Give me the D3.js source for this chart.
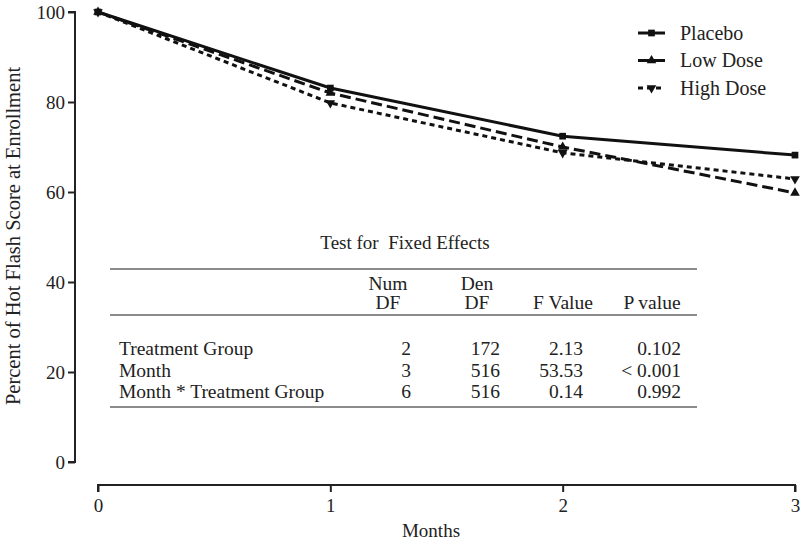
<!DOCTYPE html>
<html>
<head>
<meta charset="utf-8">
<script src="https://cdn.jsdelivr.net/npm/d3@7"></script>
<style>
  body { margin: 0; background: #fff; }
</style>
</head>
<body>
<svg id="chart" width="800" height="545"></svg>
<script>
// data
var months = [0, 1, 2, 3];
var placebo = [100, 83.1, 72.4, 68.2];
var lowDose = [100, 82.0, 70.0, 59.8];
var highDose = [100, 79.8, 68.7, 62.9];
var yTicks = [0, 20, 40, 60, 80, 100];

var tableTitle = "Test for  Fixed Effects";
var tableEffects = ["Treatment Group", "Month", "Month * Treatment Group"];
var numDF = ["2", "3", "6"];
var denDF = ["172", "516", "516"];
var fValue = ["2.13", "53.53", "0.14"];
var pValue = ["0.102", "< 0.001", "0.992"];

var serif = "'Liberation Serif', 'Times New Roman', 'DejaVu Serif', serif";
var ink = "#222";

var svg = d3.select("#chart")
  .attr("font-family", serif);

var x = d3.scaleLinear().domain([0, 3]).range([98, 795]);
var y = d3.scaleLinear().domain([0, 100]).range([462, 12]);

function styleText(sel, size) {
  return sel.attr("font-family", serif).style("font-size", size + "px").attr("fill", ink);
}

// y axis
var yAxis = svg.append("g")
  .attr("transform", "translate(75,0)")
  .call(d3.axisLeft(y).tickValues(yTicks).tickSize(7).tickPadding(3));
yAxis.attr("font-family", serif);
yAxis.select(".domain").attr("stroke", ink).attr("stroke-width", 2).attr("d", "M-7,12H0V462H-7");
yAxis.selectAll(".tick line").attr("stroke", ink).attr("stroke-width", 2);
styleText(yAxis.selectAll(".tick text"), 19);

// x axis, detached from y axis
var xAxis = svg.append("g")
  .attr("transform", "translate(0,485)")
  .call(d3.axisBottom(x).tickValues(months).tickFormat(d3.format("d")).tickSize(7).tickPadding(7));
xAxis.attr("font-family", serif);
xAxis.select(".domain").attr("stroke", ink).attr("stroke-width", 2).attr("d", "M98,7V0H795V7");
xAxis.selectAll(".tick line").attr("stroke", ink).attr("stroke-width", 2);
styleText(xAxis.selectAll(".tick text"), 19);

styleText(svg.append("text"), 19)
  .attr("x", 431).attr("y", 537)
  .attr("text-anchor", "middle")
  .text("Months");

styleText(svg.append("text"), 20.5)
  .attr("transform", "translate(20,236) rotate(-90)")
  .attr("text-anchor", "middle")
  .text("Percent of Hot Flash Score at Enrollment");

var series = [
  { name: "Placebo", values: placebo, dash: null, symbol: d3.symbolSquare, rot: 0, size: 45 },
  { name: "Low Dose", values: lowDose, dash: "11,5", symbol: d3.symbolTriangle, rot: 0, size: 40 },
  { name: "High Dose", values: highDose, dash: "5,4", symbol: d3.symbolTriangle, rot: 180, size: 40 }
];

var line = d3.line()
  .x(function (d, i) { return x(months[i]); })
  .y(function (d) { return y(d); });

series.forEach(function (s) {
  svg.append("path")
    .attr("d", line(s.values))
    .attr("fill", "none")
    .attr("stroke", "#111")
    .attr("stroke-width", 3)
    .attr("stroke-dasharray", s.dash);

  svg.selectAll(null)
    .data(s.values)
    .enter()
    .append("path")
    .attr("d", d3.symbol().type(s.symbol).size(s.size))
    .attr("transform", function (d, i) {
      return "translate(" + x(months[i]) + "," + y(d) + ") rotate(" + s.rot + ")";
    })
    .attr("fill", "#111");
});

// legend
var legend = svg.append("g").attr("transform", "translate(638,33)");
series.forEach(function (s, i) {
  var g = legend.append("g").attr("transform", "translate(0," + (i * 27.5) + ")");
  g.append("line")
    .attr("x1", 0).attr("x2", 27).attr("y1", 0).attr("y2", 0)
    .attr("stroke", "#111").attr("stroke-width", 3)
    .attr("stroke-dasharray", s.dash);
  g.append("path")
    .attr("d", d3.symbol().type(s.symbol).size(s.size))
    .attr("transform", "translate(13.5,0) rotate(" + s.rot + ")")
    .attr("fill", "#111");
  styleText(g.append("text"), 20)
    .attr("x", 42).attr("y", 6.5)
    .text(s.name);
});

// fixed effects table
var fs = 19.5;
var table = svg.append("g");
styleText(table.append("text"), 19)
  .attr("x", 405).attr("y", 249)
  .attr("text-anchor", "middle")
  .style("white-space", "pre")
  .text(tableTitle);

[269, 315, 407].forEach(function (ry) {
  table.append("line")
    .attr("x1", 110).attr("x2", 697)
    .attr("y1", ry).attr("y2", ry)
    .attr("stroke", "#666").attr("stroke-width", 1.5);
});

var headers = [
  { lines: ["Num", "DF"], x: 388 },
  { lines: ["Den", "DF"], x: 477 },
  { lines: ["", "F Value"], x: 563 },
  { lines: ["", "P value"], x: 652 }
];
headers.forEach(function (h) {
  h.lines.forEach(function (t, j) {
    styleText(table.append("text"), fs)
      .attr("x", h.x).attr("y", 290 + j * 19)
      .attr("text-anchor", "middle")
      .text(t);
  });
});

var rowY = d3.scalePoint().domain(tableEffects).range([355, 398]);
var cols = [
  { values: tableEffects, x: 119, anchor: "start" },
  { values: numDF, x: 411, anchor: "end" },
  { values: denDF, x: 500, anchor: "end" },
  { values: fValue, x: 583, anchor: "end" },
  { values: pValue, x: 681, anchor: "end" }
];
cols.forEach(function (c) {
  styleText(table.selectAll(null)
    .data(c.values)
    .enter()
    .append("text"), fs)
    .attr("x", c.x)
    .attr("y", function (d, i) { return rowY(tableEffects[i]); })
    .attr("text-anchor", c.anchor)
    .text(function (d) { return d; });
});
</script>
</body>
</html>
